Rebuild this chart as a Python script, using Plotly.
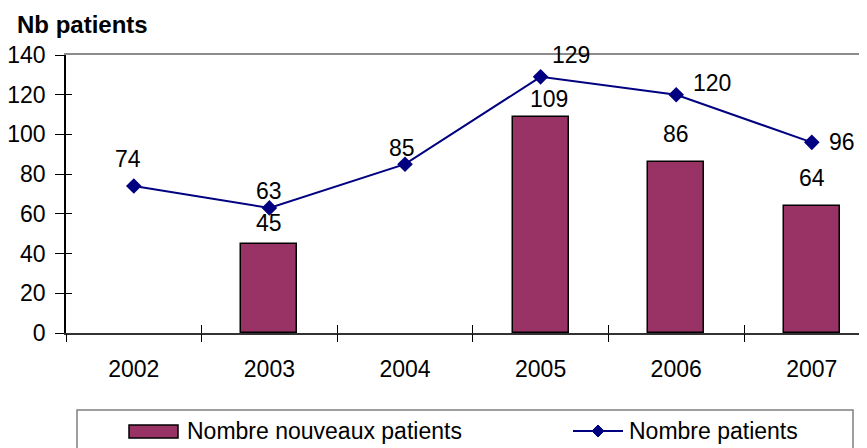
import plotly.graph_objects as go

# ---- data ----
years = ["2002", "2003", "2004", "2005", "2006", "2007"]
new_patients = [None, 45, None, 109, 86, 64]      # Nombre nouveaux patients (bars)
total_patients = [74, 63, 85, 129, 120, 96]       # Nombre patients (line)
y_ticks = [0, 20, 40, 60, 80, 100, 120, 140]
bar_name = "Nombre nouveaux patients"
line_name = "Nombre patients"
y_title = "Nb patients"

# ---- label offsets (pixels) ----
line_lbl_dx = [-6, 0, -3, 30, 36, 30]
line_lbl_dy = [27, 17, 16, 22, 12, 0]
bar_lbl_dx = [0, 0, 0, 8, 0, 0]
bar_lbl_dy = [0, 21, 0, 18, 28, 28]

PAGE_OFF = 8                      # default body margin of the html page
W, H = 867 - PAGE_OFF, 448 - PAGE_OFF
L, R, T = 66 - PAGE_OFF, 0, 55 - PAGE_OFF
B = H - (333 - PAGE_OFF)
pw, ph = W - L - R, H - T - B


def X(px):  # reference page pixel -> paper
    return (px - PAGE_OFF - L) / pw


def Y(py):
    return (H - B - (py - PAGE_OFF)) / ph


FONT = "Liberation Sans, Arial, sans-serif"
FS = 23
BAR_COLOR = "#993366"
LINE_COLOR = "#000080"

xs = list(range(len(years)))
boundaries = [i - 0.5 for i in range(len(years) + 1)]
cat_px = 135.6
xr = [-0.5, -0.5 + pw / cat_px]
yr = [0, 140]

fig = go.Figure()
fig.add_bar(
    x=xs, y=new_patients, width=0.413, name=bar_name,
    marker=dict(color=BAR_COLOR, line=dict(color="black", width=1.5)),
    showlegend=False,
)
fig.add_scatter(
    x=xs, y=total_patients, mode="lines+markers", name=line_name,
    line=dict(color=LINE_COLOR, width=2),
    marker=dict(symbol="diamond", size=12, color=LINE_COLOR),
    showlegend=False, cliponaxis=False,
)
# empty helper traces so the overlay axes (cross ticks, top border) get drawn
for xa, ya in [("x2", "y"), ("x3", "y"), ("x4", "y"), ("x", "y2")]:
    fig.add_scatter(x=[None], y=[None], xaxis=xa, yaxis=ya, mode="markers",
                    showlegend=False, hoverinfo="skip")

ann = []
for i, v in enumerate(total_patients):
    ann.append(dict(x=xs[i], y=v, xref="x", yref="y", text=str(v), showarrow=False,
                    xshift=line_lbl_dx[i], yshift=line_lbl_dy[i],
                    font=dict(family=FONT, size=FS, color="black")))
for i, v in enumerate(new_patients):
    if v is None:
        continue
    ann.append(dict(x=xs[i], y=v, xref="x", yref="y", text=str(v), showarrow=False,
                    xshift=bar_lbl_dx[i], yshift=bar_lbl_dy[i],
                    font=dict(family=FONT, size=FS, color="black")))

# title
ann.append(dict(x=X(15), y=Y(24), xref="paper", yref="paper", text="<b>%s</b>" % y_title,
                showarrow=False, xanchor="left", yanchor="middle",
                font=dict(family=FONT, size=24, color="black")))
# legend texts
ann.append(dict(x=X(185), y=Y(431), xref="paper", yref="paper", text=bar_name,
                showarrow=False, xanchor="left", yanchor="middle",
                font=dict(family=FONT, size=FS, color="black")))
ann.append(dict(x=X(627), y=Y(431), xref="paper", yref="paper", text=line_name,
                showarrow=False, xanchor="left", yanchor="middle",
                font=dict(family=FONT, size=FS, color="black")))

shapes = [
    dict(type="rect", xref="paper", yref="paper", x0=X(77), x1=X(853), y0=Y(410), y1=Y(470),
         line=dict(color="#808080", width=1.5), fillcolor="rgba(0,0,0,0)"),
    dict(type="rect", xref="paper", yref="paper", x0=X(129), x1=X(178), y0=Y(425), y1=Y(438),
         line=dict(color="black", width=1.5), fillcolor=BAR_COLOR),
    dict(type="line", xref="paper", yref="paper", x0=X(573), x1=X(623), y0=Y(431), y1=Y(431),
         line=dict(color=LINE_COLOR, width=2)),
]
cx, cy, dx, dy = X(598), Y(431), 6 / pw, 6 / ph
shapes.append(dict(type="path", xref="paper", yref="paper",
                   path=f"M {cx-dx},{cy} L {cx},{cy+dy} L {cx+dx},{cy} L {cx},{cy-dy} Z",
                   fillcolor=LINE_COLOR, line=dict(color=LINE_COLOR, width=1)))

common = dict(showgrid=False, zeroline=False)
fig.update_layout(
    width=W, height=H, margin=dict(l=L, r=R, t=T, b=B, pad=0),
    paper_bgcolor="white", plot_bgcolor="white",
    font=dict(family=FONT, size=FS, color="black"),
    bargap=0, hovermode=False,
    xaxis=dict(range=xr, tickmode="array", tickvals=xs, ticktext=years, ticks="",
               showline=True, linecolor="#333333", linewidth=2,
               ticklabelstandoff=14, tickfont=dict(size=FS), **common),
    xaxis2=dict(overlaying="x", anchor="y", side="bottom", range=xr, tickmode="array",
                tickvals=boundaries, ticks="outside", ticklen=8, tickwidth=1, tickcolor="black",
                showticklabels=False, showline=False, **common),
    xaxis3=dict(overlaying="x", anchor="y", side="bottom", range=xr, tickmode="array",
                tickvals=boundaries, ticks="inside", ticklen=8, tickwidth=1, tickcolor="black",
                showticklabels=False, showline=False, **common),
    xaxis4=dict(overlaying="x", anchor="y", side="top", range=xr, ticks="",
                showticklabels=False, showline=True, linecolor="#8c8c8c", linewidth=2, **common),
    yaxis=dict(range=yr, tickmode="array", tickvals=y_ticks, ticks="outside", ticklen=9,
               tickwidth=1, tickcolor="black", showline=True, linecolor="black", linewidth=1.5,
               ticklabelstandoff=5, tickfont=dict(size=FS), **common),
    yaxis2=dict(overlaying="y", anchor="x", side="left", range=yr, tickmode="array",
                tickvals=y_ticks, ticks="inside", ticklen=6, tickwidth=1, tickcolor="black",
                showticklabels=False, showline=False, **common),
    annotations=ann, shapes=shapes,
)

fig.write_html("out.html")
